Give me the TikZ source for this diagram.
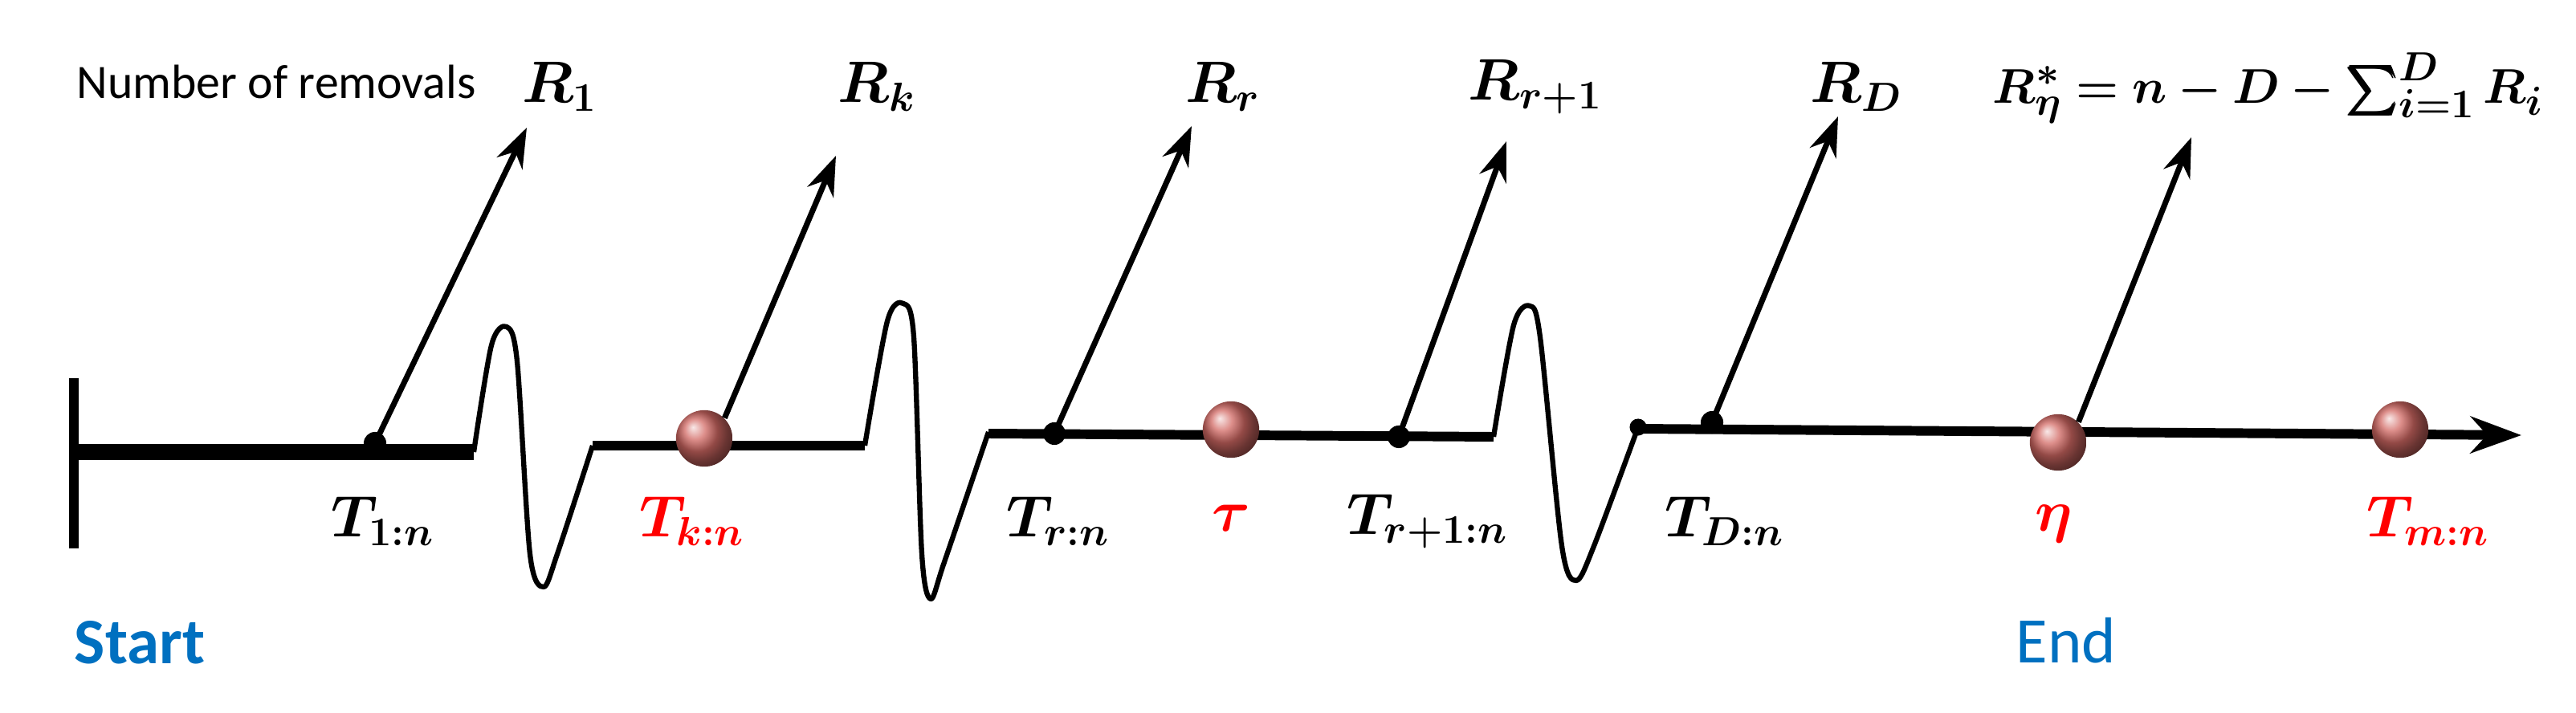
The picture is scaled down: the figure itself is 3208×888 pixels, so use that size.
\documentclass[tikz,border=0pt]{standalone}
\usepackage{fontspec}
\setmainfont{Carlito}
\usepackage{amsmath,bm}
\usetikzlibrary{arrows.meta}
\definecolor{ballred}{RGB}{210,105,100}
\definecolor{startblue}{RGB}{0,112,192}
\begin{document}
\begin{tikzpicture}[x=0.01cm,y=-0.01cm,
  base/.style={line width=3.4pt},
  wave/.style={line width=1.8pt,line join=round},
  rem/.style={line width=2pt,-{Stealth[length=14pt,width=10pt]}},
  dotn/.style={circle,fill=black,inner sep=0pt,minimum size=8pt},
  ballnode/.style={circle,shading=ball,ball color=ballred,inner sep=0pt,minimum size=20pt},
  mlab/.style={font=\fontsize{20.5}{24}\selectfont},
  tlab/.style={font=\fontsize{20.5}{24}\selectfont}]
\useasboundingbox (0,0) rectangle (3208,888);
% start bar
\coordinate (s0) at (92,471);
\coordinate (s1) at (92,683);
\draw[line width=3.2pt] (s0) -- (s1);
% baseline segments
\coordinate (a0) at (92,563); \coordinate (a1) at (590,563);
\draw[line width=5.6pt] (a0) -- (a1);
\coordinate (b0) at (738,555); \coordinate (b1) at (1077,555);
\draw[base] (b0) -- (b1);
\coordinate (c0) at (1231,540); \coordinate (c1) at (1860,544);
\draw[base] (c0) -- (c1);
\coordinate (d0) at (2040,534); \coordinate (d1) at (3140,542);
\draw[base,-{Stealth[length=18pt,width=13pt]}] (d0) -- (d1);
% waves
\draw[wave] plot[smooth,tension=0.5] coordinates {(590,563) (612,430) (631,407) (644,450) (660,690) (677,731) (694,690) (738,555)};
\draw[wave] plot[smooth,tension=0.5] coordinates {(1077,555) (1105,400) (1125,378) (1138,420) (1148,690) (1159,746) (1176,700) (1231,538)};
\draw[wave] plot[smooth,tension=0.5] coordinates {(1860,544) (1885,405) (1905,381) (1918,420) (1945,680) (1963,723) (1985,680) (2040,532)};
% markers
\node[dotn] (t1) at (467,552) {};
\node[ballnode] (tk) at (877,546) {};
\node[dotn] (tr) at (1313,540) {};
\node[ballnode] (tau) at (1533,535) {};
\node[dotn] (tr1) at (1742,544) {};
\node[dotn,minimum size=6pt] (w3) at (2040,532) {};
\node[dotn] (td) at (2132,526) {};
\node[ballnode] (eta) at (2563,551) {};
\node[ballnode] (tm) at (2989,535) {};
% arrow end points
\coordinate (e1) at (656,159);
\coordinate (ek) at (1041,194);
\coordinate (er) at (1484,157);
\coordinate (er1) at (1876,176);
\coordinate (ed) at (2289,145);
\coordinate (eeta) at (2729,171);
\draw[rem] (t1.center) -- (e1);
\draw[rem] (tk.north east) -- (ek);
\draw[rem] (tr.center) -- (er);
\draw[rem] (tr1.center) -- (er1);
\draw[rem] (td.center) -- (ed);
\draw[rem] (eta.north east) -- (eeta);
% top labels
\node[font=\fontsize{17}{20}\selectfont] (nr) at (344,102) {Number of removals};
\node[mlab] (l1) at (697,108) {$\boldsymbol{R_1}$};
\node[mlab] (lk) at (1092,108) {$\boldsymbol{R_k}$};
\node[mlab] (lr) at (1523,108) {$\boldsymbol{R_r}$};
\node[mlab] (lr1) at (1912,108) {$\boldsymbol{R_{r+1}}$};
\node[mlab] (ld) at (2312,108) {$\boldsymbol{R_D}$};
\node[mlab,font=\fontsize{19}{23}\selectfont] (leta) at (2825,110) {$\boldsymbol{R^*_\eta = n - D - \textstyle\sum_{i=1}^{D} R_i}$};
% bottom labels
\node[tlab] (b1) at (477,649) {$\boldsymbol{T_{1:n}}$};
\node[tlab,text=red] (bk) at (862,649) {$\boldsymbol{T_{k:n}}$};
\node[tlab] (br) at (1318,649) {$\boldsymbol{T_{r:n}}$};
\node[tlab,text=red] (btau) at (1533,645) {$\boldsymbol{\tau}$};
\node[tlab] (br1) at (1778,649) {$\boldsymbol{T_{r+1:n}}$};
\node[tlab] (bd) at (2148,649) {$\boldsymbol{T_{D:n}}$};
\node[tlab,text=red] (beta) at (2558,652) {$\boldsymbol{\eta}$};
\node[tlab,text=red] (bm) at (3024,649) {$\boldsymbol{T_{m:n}}$};
\node[text=startblue,font=\fontsize{23}{27}\selectfont\bfseries] (st) at (174,800) {Start};
\node[text=startblue,font=\fontsize{23}{27}\selectfont] (en) at (2573,798) {End};
\end{tikzpicture}
\end{document}
